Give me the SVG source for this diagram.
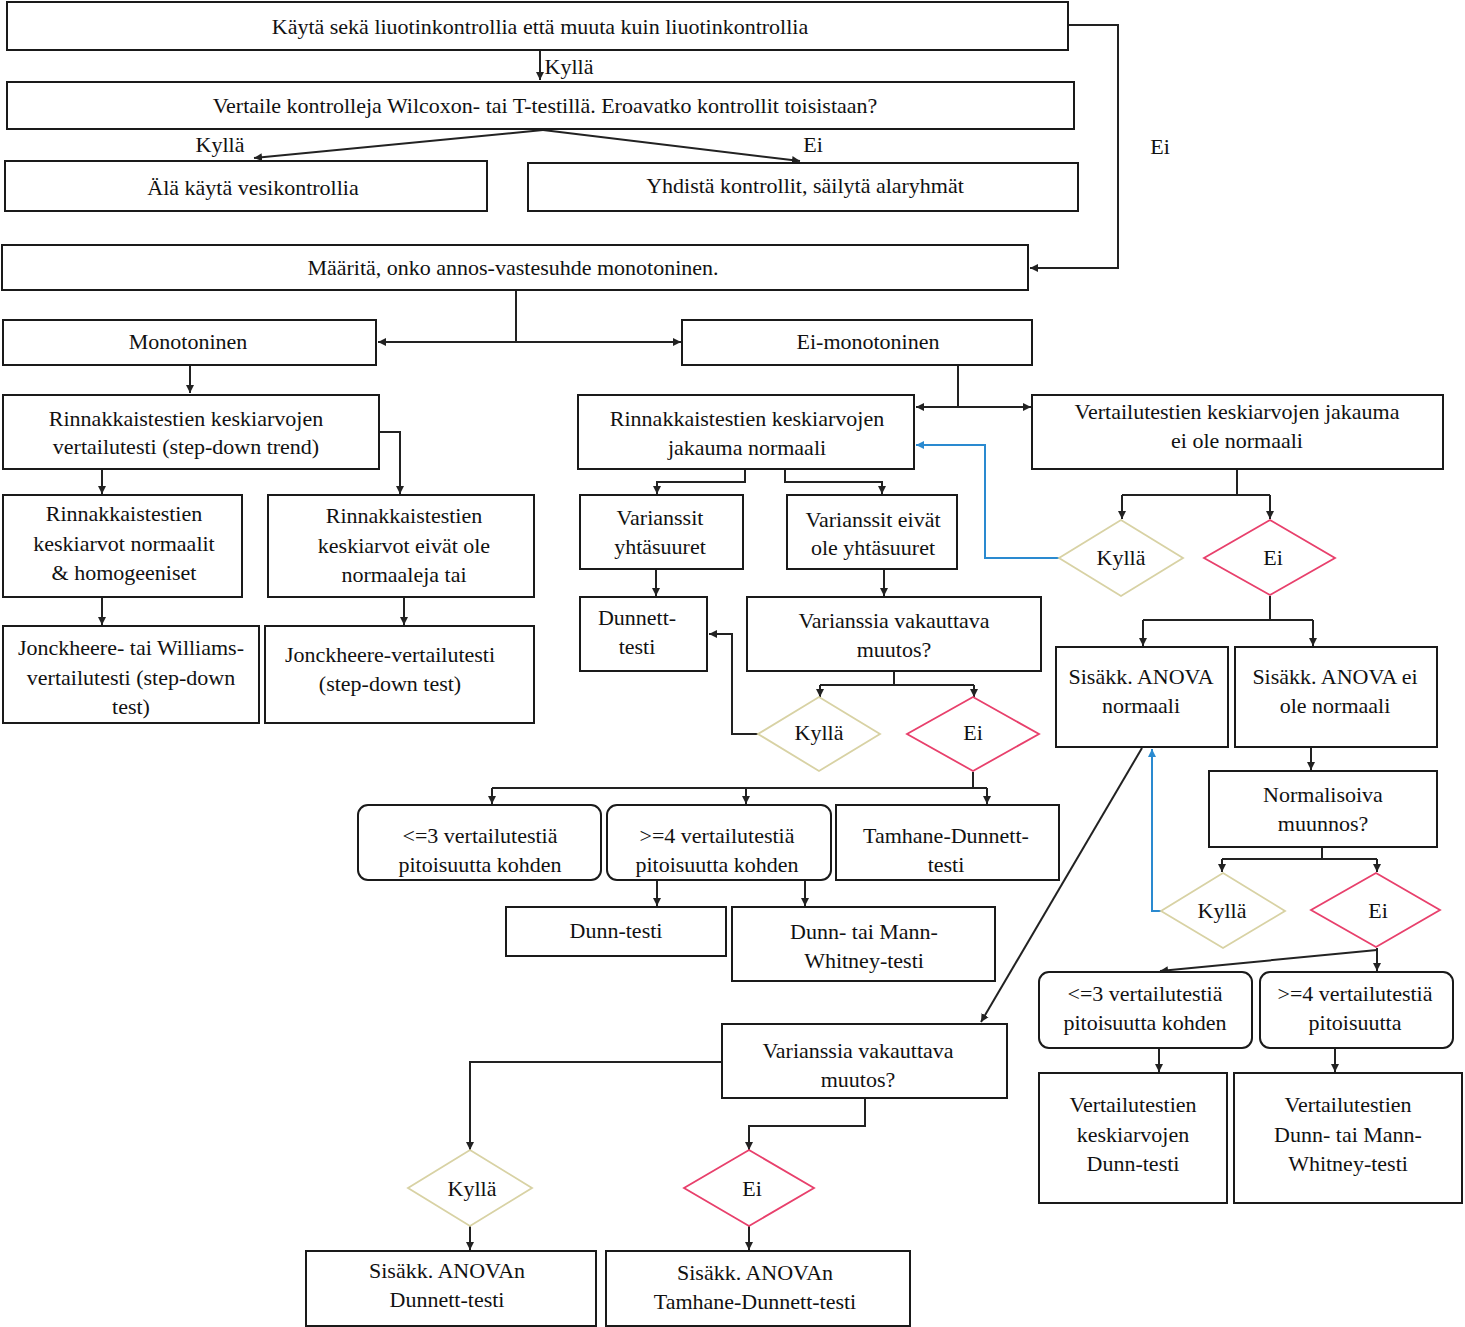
<svg xmlns="http://www.w3.org/2000/svg" width="1465" height="1327" viewBox="0 0 1465 1327">
<style>
rect{fill:#fff;stroke:#1a1a1a;stroke-width:2}
.dy{fill:#fff;stroke:#d8d2a4;stroke-width:1.8}
.dn{fill:#fff;stroke:#e8406c;stroke-width:1.8}
text{font-family:'Liberation Serif','Times New Roman',Tinos,'Noto Serif','DejaVu Serif',FreeSerif,Times,serif;font-size:22px;fill:#111;text-anchor:middle;dominant-baseline:central}
.c path,.c line,.c polyline{fill:none;stroke:#222;stroke-width:2}
.c .b{stroke:#2a8ad0}
</style>
<defs>
<marker id="a" markerUnits="userSpaceOnUse" markerWidth="9" markerHeight="9" refX="8" refY="4.5" orient="auto"><path d="M0,0.5 L8,4.5 L0,8.5 z" fill="#222"/></marker>
<marker id="ab" markerUnits="userSpaceOnUse" markerWidth="9" markerHeight="9" refX="8" refY="4.5" orient="auto"><path d="M0,0.5 L8,4.5 L0,8.5 z" fill="#2a8ad0"/></marker>
</defs>
<g class="c" id="connectors">
<line x1="540" y1="51" x2="540" y2="80" marker-end="url(#a)"/>
<line x1="543" y1="130" x2="254" y2="158" marker-end="url(#a)"/>
<line x1="543" y1="130" x2="800" y2="161" marker-end="url(#a)"/>
<polyline points="1068,25 1118,25 1118,268 1030,268" marker-end="url(#a)"/>
<line x1="516" y1="291" x2="516" y2="342"/>
<line x1="516" y1="342" x2="378" y2="342" marker-end="url(#a)"/>
<line x1="516" y1="342" x2="681" y2="342" marker-end="url(#a)"/>
<line x1="190" y1="366" x2="190" y2="393" marker-end="url(#a)"/>
<polyline points="379,432 400,432 400,494" marker-end="url(#a)"/>
<line x1="102" y1="470" x2="102" y2="494" marker-end="url(#a)"/>
<line x1="102" y1="598" x2="102" y2="625" marker-end="url(#a)"/>
<line x1="404" y1="598" x2="404" y2="625" marker-end="url(#a)"/>
<line x1="958" y1="366" x2="958" y2="407"/>
<line x1="958" y1="407" x2="916" y2="407" marker-end="url(#a)"/>
<line x1="958" y1="407" x2="1031" y2="407" marker-end="url(#a)"/>
<polyline points="745,470 745,482 657,482 657,494" marker-end="url(#a)"/>
<polyline points="785,470 785,482 882,482 882,494" marker-end="url(#a)"/>
<line x1="656" y1="570" x2="656" y2="596" marker-end="url(#a)"/>
<line x1="884" y1="570" x2="884" y2="596" marker-end="url(#a)"/>
<line x1="894" y1="672" x2="894" y2="685"/>
<polyline points="820,685 974,685"/>
<line x1="820" y1="685" x2="820" y2="697" marker-end="url(#a)"/>
<line x1="974" y1="685" x2="974" y2="697" marker-end="url(#a)"/>
<polyline points="758,734 732,734 732,634 709,634" marker-end="url(#a)"/>
<line x1="973" y1="772" x2="973" y2="788"/>
<line x1="492" y1="788" x2="987" y2="788"/>
<line x1="492" y1="788" x2="492" y2="804" marker-end="url(#a)"/>
<line x1="746" y1="788" x2="746" y2="804" marker-end="url(#a)"/>
<line x1="987" y1="788" x2="987" y2="804" marker-end="url(#a)"/>
<line x1="657" y1="881" x2="657" y2="906" marker-end="url(#a)"/>
<line x1="805" y1="881" x2="805" y2="906" marker-end="url(#a)"/>
<line x1="1237" y1="470" x2="1237" y2="495"/>
<line x1="1122" y1="495" x2="1270" y2="495"/>
<line x1="1122" y1="495" x2="1122" y2="519" marker-end="url(#a)"/>
<line x1="1270" y1="495" x2="1270" y2="519" marker-end="url(#a)"/>
<polyline class="b" points="1060,558 985,558 985,445 916,445" marker-end="url(#ab)"/>
<line x1="1270" y1="596" x2="1270" y2="620"/>
<line x1="1143" y1="620" x2="1313" y2="620"/>
<line x1="1143" y1="620" x2="1143" y2="646" marker-end="url(#a)"/>
<line x1="1313" y1="620" x2="1313" y2="646" marker-end="url(#a)"/>
<line x1="1311" y1="748" x2="1311" y2="770" marker-end="url(#a)"/>
<line x1="1322" y1="848" x2="1322" y2="859"/>
<line x1="1222" y1="859" x2="1377" y2="859"/>
<line x1="1222" y1="859" x2="1222" y2="872" marker-end="url(#a)"/>
<line x1="1377" y1="859" x2="1377" y2="872" marker-end="url(#a)"/>
<polyline class="b" points="1162,911 1152,911 1152,749" marker-end="url(#ab)"/>
<line x1="1142" y1="748" x2="981" y2="1022" marker-end="url(#a)"/>
<line x1="1377" y1="948" x2="1377" y2="971" marker-end="url(#a)"/>
<line x1="1377" y1="950" x2="1160" y2="971" marker-end="url(#a)"/>
<line x1="1159" y1="1049" x2="1159" y2="1072" marker-end="url(#a)"/>
<line x1="1335" y1="1049" x2="1335" y2="1072" marker-end="url(#a)"/>
<polyline points="722,1062 470,1062 470,1150" marker-end="url(#a)"/>
<polyline points="865,1099 865,1126 749,1126 749,1150" marker-end="url(#a)"/>
<line x1="470" y1="1226" x2="470" y2="1250" marker-end="url(#a)"/>
<line x1="749" y1="1226" x2="749" y2="1250" marker-end="url(#a)"/>
</g>
<g id="labels">
<text x="569" y="66">Kyllä</text>
<text x="220" y="144">Kyllä</text>
<text x="813" y="144">Ei</text>
<text x="1160" y="146">Ei</text>
</g>
<g id="n1"><rect x="7" y="2" width="1061" height="48"/><text x="540" y="26">Käytä sekä liuotinkontrollia että muuta kuin liuotinkontrollia</text></g>
<g id="n2"><rect x="7" y="82" width="1067" height="47"/><text x="545" y="105">Vertaile kontrolleja Wilcoxon- tai T-testillä. Eroavatko kontrollit toisistaan?</text></g>
<g id="n3"><rect x="5" y="161" width="482" height="50"/><text x="253" y="187">Älä käytä vesikontrollia</text></g>
<g id="n4"><rect x="528" y="163" width="550" height="48"/><text x="805" y="185">Yhdistä kontrollit, säilytä alaryhmät</text></g>
<g id="n5"><rect x="2" y="245" width="1026" height="45"/><text x="513" y="267">Määritä, onko annos-vastesuhde monotoninen.</text></g>
<g id="n6"><rect x="3" y="320" width="373" height="45"/><text x="188" y="341">Monotoninen</text></g>
<g id="n7"><rect x="682" y="320" width="350" height="45"/><text x="868" y="341">Ei-monotoninen</text></g>
<g id="n8"><rect x="3" y="395" width="376" height="74"/><text x="186" y="418">Rinnakkaistestien keskiarvojen</text><text x="186" y="446">vertailutesti (step-down trend)</text></g>
<g id="n9"><rect x="3" y="495" width="239" height="102"/><text x="124" y="513">Rinnakkaistestien</text><text x="124" y="543">keskiarvot normaalit</text><text x="124" y="572">&amp; homogeeniset</text></g>
<g id="n10"><rect x="268" y="495" width="266" height="102"/><text x="404" y="515">Rinnakkaistestien</text><text x="404" y="545">keskiarvot eivät ole</text><text x="404" y="574">normaaleja tai</text></g>
<g id="n11"><rect x="3" y="626" width="256" height="97"/><text x="131" y="647">Jonckheere- tai Williams-</text><text x="131" y="677">vertailutesti (step-down</text><text x="131" y="706">test)</text></g>
<g id="n12"><rect x="265" y="626" width="269" height="97"/><text x="390" y="654">Jonckheere-vertailutesti</text><text x="390" y="683">(step-down test)</text></g>
<g id="n13"><rect x="578" y="395" width="336" height="74"/><text x="747" y="418">Rinnakkaistestien keskiarvojen</text><text x="747" y="447">jakauma normaali</text></g>
<g id="n14"><rect x="1032" y="395" width="411" height="74"/><text x="1237" y="411">Vertailutestien keskiarvojen jakauma</text><text x="1237" y="440">ei ole normaali</text></g>
<g id="n15"><rect x="580" y="495" width="163" height="74"/><text x="660" y="517">Varianssit</text><text x="660" y="546">yhtäsuuret</text></g>
<g id="n16"><rect x="787" y="495" width="170" height="74"/><text x="873" y="519">Varianssit eivät</text><text x="873" y="547">ole yhtäsuuret</text></g>
<g id="n17"><rect x="580" y="597" width="127" height="74"/><text x="637" y="617">Dunnett-</text><text x="637" y="646">testi</text></g>
<g id="n18"><rect x="747" y="597" width="294" height="74"/><text x="894" y="620">Varianssia vakauttava</text><text x="894" y="649">muutos?</text></g>
<g id="n19"><polygon class="dy" points="819,697 880,734 819,771 758,734"/><text x="819" y="732">Kyllä</text></g>
<g id="n20"><polygon class="dn" points="973,697 1039,734 973,771 907,734"/><text x="973" y="732">Ei</text></g>
<g id="n21"><rect x="358" y="805" width="243" height="75" rx="10"/><text x="480" y="835">&lt;=3 vertailutestiä</text><text x="480" y="864">pitoisuutta kohden</text></g>
<g id="n22"><rect x="607" y="805" width="224" height="75" rx="10"/><text x="717" y="835">&gt;=4 vertailutestiä</text><text x="717" y="864">pitoisuutta kohden</text></g>
<g id="n23"><rect x="836" y="805" width="223" height="75"/><text x="946" y="835">Tamhane-Dunnett-</text><text x="946" y="864">testi</text></g>
<g id="n24"><rect x="506" y="907" width="220" height="49"/><text x="616" y="930">Dunn-testi</text></g>
<g id="n25"><rect x="732" y="907" width="263" height="74"/><text x="864" y="931">Dunn- tai Mann-</text><text x="864" y="960">Whitney-testi</text></g>
<g id="n26"><polygon class="dy" points="1121,520 1183,558 1121,596 1059,558"/><text x="1121" y="557">Kyllä</text></g>
<g id="n27"><polygon class="dn" points="1270,520 1335,558 1270,595 1204,558"/><text x="1273" y="557">Ei</text></g>
<g id="n28"><rect x="1056" y="647" width="172" height="100"/><text x="1141" y="676">Sisäkk. ANOVA</text><text x="1141" y="705">normaali</text></g>
<g id="n29"><rect x="1235" y="647" width="202" height="100"/><text x="1335" y="676">Sisäkk. ANOVA ei</text><text x="1335" y="705">ole normaali</text></g>
<g id="n30"><rect x="1209" y="771" width="228" height="76"/><text x="1323" y="794">Normalisoiva</text><text x="1323" y="823">muunnos?</text></g>
<g id="n31"><polygon class="dy" points="1223,873 1285,911 1223,948 1161,911"/><text x="1222" y="910">Kyllä</text></g>
<g id="n32"><polygon class="dn" points="1376,873 1440,910 1376,947 1311,910"/><text x="1378" y="910">Ei</text></g>
<g id="n33"><rect x="1039" y="972" width="213" height="76" rx="10"/><text x="1145" y="993">&lt;=3 vertailutestiä</text><text x="1145" y="1022">pitoisuutta kohden</text></g>
<g id="n34"><rect x="1260" y="972" width="193" height="76" rx="10"/><text x="1355" y="993">&gt;=4 vertailutestiä</text><text x="1355" y="1022">pitoisuutta</text></g>
<g id="n35"><rect x="1039" y="1073" width="188" height="130"/><text x="1133" y="1104">Vertailutestien</text><text x="1133" y="1134">keskiarvojen</text><text x="1133" y="1163">Dunn-testi</text></g>
<g id="n36"><rect x="1234" y="1073" width="228" height="130"/><text x="1348" y="1104">Vertailutestien</text><text x="1348" y="1134">Dunn- tai Mann-</text><text x="1348" y="1163">Whitney-testi</text></g>
<g id="n37"><rect x="722" y="1024" width="285" height="74"/><text x="858" y="1050">Varianssia vakauttava</text><text x="858" y="1079">muutos?</text></g>
<g id="n38"><polygon class="dy" points="470,1150 532,1188 470,1226 408,1188"/><text x="472" y="1188">Kyllä</text></g>
<g id="n39"><polygon class="dn" points="749,1150 814,1188 749,1226 684,1188"/><text x="752" y="1188">Ei</text></g>
<g id="n40"><rect x="306" y="1251" width="290" height="75"/><text x="447" y="1270">Sisäkk. ANOVAn</text><text x="447" y="1299">Dunnett-testi</text></g>
<g id="n41"><rect x="606" y="1251" width="304" height="75"/><text x="755" y="1272">Sisäkk. ANOVAn</text><text x="755" y="1301">Tamhane-Dunnett-testi</text></g>
</svg>
